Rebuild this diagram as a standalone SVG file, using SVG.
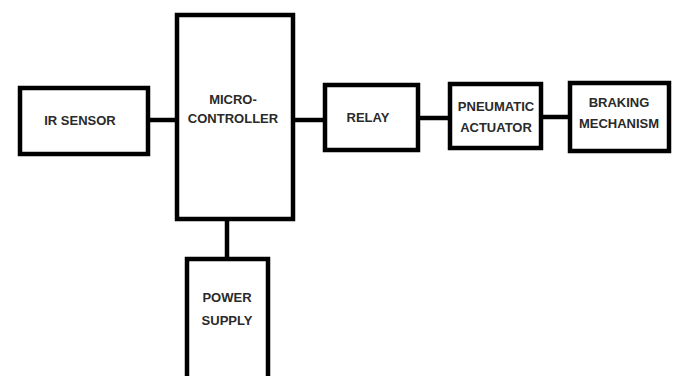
<svg xmlns="http://www.w3.org/2000/svg" width="673" height="376" viewBox="0 0 673 376">
<style>
.box{fill:#fff;stroke:#000;stroke-width:4.5}
.ln{stroke:#000;stroke-width:4.5;fill:none}
text{font-family:"Liberation Sans",Arial,sans-serif;font-weight:bold;font-size:13px;fill:#2a2a2a;text-anchor:middle}
</style>
<rect width="673" height="376" fill="#fff"/>
<g id="connectors">
<line class="ln" x1="150" y1="120" x2="177" y2="120"/>
<line class="ln" x1="293" y1="120" x2="325" y2="120"/>
<line class="ln" x1="418" y1="118" x2="450" y2="118"/>
<line class="ln" x1="541" y1="117" x2="570" y2="117"/>
<line class="ln" x1="227" y1="219" x2="227" y2="259"/>
</g>
<g id="ir-sensor">
<rect class="box" x="20" y="88" width="128" height="66"/>
<text x="80" y="125">IR SENSOR</text>
</g>
<g id="microcontroller">
<rect class="box" x="177" y="15" width="116" height="204"/>
<text x="233" y="104">MICRO-</text>
<text x="233" y="123">CONTROLLER</text>
</g>
<g id="relay">
<rect class="box" x="325" y="85" width="93" height="65"/>
<text x="368" y="122">RELAY</text>
</g>
<g id="pneumatic-actuator">
<rect class="box" x="450" y="84" width="91" height="64"/>
<text x="496" y="111">PNEUMATIC</text>
<text x="496" y="132">ACTUATOR</text>
</g>
<g id="braking-mechanism">
<rect class="box" x="570" y="83" width="99" height="68"/>
<text x="619" y="107">BRAKING</text>
<text x="619" y="128">MECHANISM</text>
</g>
<g id="power-supply">
<rect class="box" x="187" y="259" width="81" height="130"/>
<text x="227" y="302">POWER</text>
<text x="227" y="325">SUPPLY</text>
</g>
</svg>
